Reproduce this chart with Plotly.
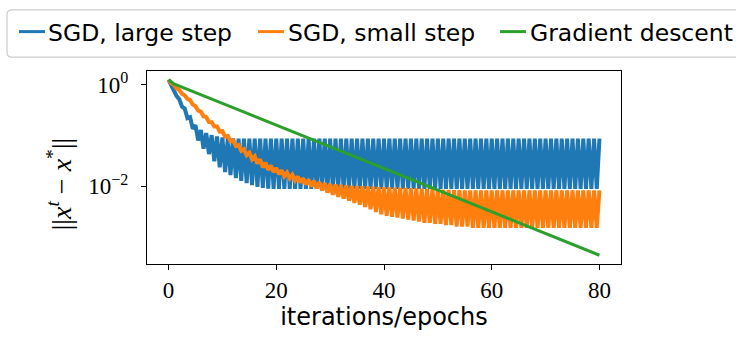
import plotly.graph_objects as go

# ---- data -------------------------------------------------------------
# SGD runs: one oscillation per epoch; peak value at the epoch mark k,
# low point half-way through the epoch (k + 0.5).
sgd_large_peak = [
    1.26, 0.80, 0.52, 0.34, 0.23, 0.16, 0.128, 0.112, 0.102, 0.096,
    0.092, 0.089, 0.088, 0.087, 0.087, 0.087, 0.087, 0.087, 0.087, 0.087,
    0.087, 0.087, 0.087, 0.087, 0.087, 0.087, 0.087, 0.087, 0.087, 0.087,
    0.087, 0.087, 0.087, 0.087, 0.087, 0.087, 0.087, 0.087, 0.087, 0.087,
    0.087, 0.087, 0.087, 0.087, 0.087, 0.087, 0.087, 0.087, 0.087, 0.087,
    0.087, 0.087, 0.087, 0.087, 0.087, 0.087, 0.087, 0.087, 0.087, 0.087,
    0.087, 0.087, 0.087, 0.087, 0.087, 0.087, 0.087, 0.087, 0.087, 0.087,
    0.087, 0.087, 0.087, 0.087, 0.087, 0.087, 0.087, 0.087, 0.087, 0.087,
    0.087,
]
sgd_large_low = [
    0.95, 0.60, 0.37, 0.22, 0.135, 0.080, 0.055, 0.043, 0.031, 0.0235,
    0.019, 0.0166, 0.0145, 0.0128, 0.0115, 0.0105, 0.0097, 0.0093, 0.0090, 0.0089,
    0.0089, 0.0089, 0.0089, 0.0089, 0.0089, 0.0089, 0.0089, 0.0089, 0.0089, 0.0089,
    0.0089, 0.0089, 0.0089, 0.0089, 0.0089, 0.0089, 0.0089, 0.0089, 0.0089, 0.0089,
    0.0089, 0.0089, 0.0089, 0.0089, 0.0089, 0.0089, 0.0089, 0.0089, 0.0089, 0.0089,
    0.0089, 0.0089, 0.0089, 0.0089, 0.0089, 0.0089, 0.0089, 0.0089, 0.0089, 0.0089,
    0.0089, 0.0089, 0.0089, 0.0089, 0.0089, 0.0089, 0.0089, 0.0089, 0.0089, 0.0089,
    0.0089, 0.0089, 0.0089, 0.0089, 0.0089, 0.0089, 0.0089, 0.0089, 0.0089, 0.0089,
]
sgd_small_peak = [
    1.26, 1.00, 0.79, 0.62, 0.50, 0.38, 0.295, 0.23, 0.184, 0.150,
    0.122, 0.098, 0.080, 0.065, 0.054, 0.046, 0.039, 0.034, 0.029, 0.0255,
    0.0228, 0.0205, 0.0185, 0.0168, 0.0155, 0.0144, 0.0135, 0.0127, 0.0121, 0.0116,
    0.0111, 0.0108, 0.0106, 0.0104, 0.0102, 0.0101, 0.0100, 0.0099, 0.0098, 0.0097,
    0.0096, 0.0095, 0.0094, 0.0093, 0.0092, 0.0091, 0.0090, 0.0089, 0.0088, 0.0087,
    0.0086, 0.0085, 0.0085, 0.0084, 0.0084, 0.0083, 0.0083, 0.0083, 0.0083, 0.0083,
    0.0083, 0.0083, 0.0083, 0.0083, 0.0083, 0.0083, 0.0083, 0.0083, 0.0083, 0.0083,
    0.0083, 0.0083, 0.0083, 0.0083, 0.0083, 0.0083, 0.0083, 0.0083, 0.0083, 0.0083,
    0.0083,
]
sgd_small_low = [
    1.08, 0.85, 0.67, 0.53, 0.41, 0.31, 0.24, 0.185, 0.15, 0.12,
    0.096, 0.077, 0.062, 0.050, 0.041, 0.034, 0.028, 0.0235, 0.021, 0.019,
    0.0172, 0.0157, 0.0143, 0.013, 0.0118, 0.0108, 0.0099, 0.0091, 0.0083, 0.0075,
    0.0068, 0.0062, 0.0057, 0.0052, 0.0047, 0.0043, 0.0039, 0.0035, 0.0031, 0.0028,
    0.0026, 0.0025, 0.0024, 0.0023, 0.0022, 0.0021, 0.0020, 0.0019, 0.0019, 0.0018,
    0.0018, 0.0017, 0.0017, 0.0016, 0.0016, 0.0016, 0.0015, 0.0015, 0.0015, 0.0015,
    0.0015, 0.0015, 0.0015, 0.0015, 0.0015, 0.0015, 0.0015, 0.0015, 0.0015, 0.0015,
    0.0015, 0.0015, 0.0015, 0.0015, 0.0015, 0.0015, 0.0015, 0.0015, 0.0015, 0.0015,
]
gd_iter = [0, 1, 10, 20, 30, 40, 50, 60, 70, 80]
gd_err = [1.26, 1.04, 0.43, 0.160, 0.0598, 0.0223, 0.00834, 0.00311, 0.00116, 0.000434]

x_ticks = [0, 20, 40, 60, 80]
y_ticks = [1, 0.01]
y_tick_text = ["10<sup>0</sup>", "10<sup>\u22122</sup>"]

names = ["SGD, large step", "SGD, small step", "Gradient descent"]
colors = ["#1f77b4", "#ff7f0e", "#2ca02c"]
y_label = "||<i>x</i><sup><i>t</i></sup> \u2212 <i>x</i><sup>*</sup>||"
x_label = "iterations/epochs"


def zigzag(peaks, lows):
    """Interleave per-epoch peaks (at k) and lows (at k + 0.5)."""
    xs, ys = [], []
    for k, p in enumerate(peaks):
        xs.append(k)
        ys.append(p)
        if k < len(lows):
            xs.append(k + 0.5)
            ys.append(lows[k])
    return xs, ys


# ---- figure geometry (pixels) ----------------------------------------
W, H = 736, 338
L, R, T, B = 147, 115, 71, 71
PW, PH = W - L - R, H - T - B


def fx(px):
    return (px - L) / PW


def fy(py):
    return (H - B - py) / PH


LW = 3
LW_SGD = 4

fig = go.Figure()
for (pk, lo), name, col in zip(
    [(sgd_large_peak, sgd_large_low), (sgd_small_peak, sgd_small_low)],
    names[:2], colors[:2]
):
    xs, ys = zigzag(pk, lo)
    fig.add_trace(go.Scatter(x=xs, y=ys, mode="lines", name=name,
                             line=dict(color=col, width=LW_SGD)))
fig.add_trace(go.Scatter(x=gd_iter, y=gd_err, mode="lines", name=names[2],
                         line=dict(color=colors[2], width=LW)))

serif = "Liberation Serif, DejaVu Serif, serif"
sans = "DejaVu Sans, sans-serif"

fig.update_xaxes(
    range=[-4, 84], tickvals=x_ticks, ticks="outside", ticklen=5, tickwidth=1.2,
    tickcolor="black", showline=True, linecolor="black", linewidth=1.3,
    mirror=True, showgrid=False, zeroline=False,
    tickfont=dict(family=serif, size=23, color="black"),
    title=dict(text=x_label, font=dict(family=sans, size=24, color="black"),
               standoff=6),
)
fig.update_yaxes(
    type="log", range=[-3.535, 0.273], tickvals=y_ticks, ticktext=y_tick_text,
    ticks="outside", ticklen=5, tickwidth=1.2, tickcolor="black",
    ticklabelstandoff=8,
    showline=True, linecolor="black", linewidth=1.3, mirror=True,
    showgrid=False, zeroline=False,
    tickfont=dict(family=serif, size=23, color="black"),
)

# legend frame drawn as a rounded box across the top
lx0, lx1, ly0, ly1, rr = 7, 745, 9, 57, 5
path = (
    f"M{fx(lx0 + rr)},{fy(ly0)} L{fx(lx1 - rr)},{fy(ly0)} "
    f"Q{fx(lx1)},{fy(ly0)} {fx(lx1)},{fy(ly0 + rr)} "
    f"L{fx(lx1)},{fy(ly1 - rr)} Q{fx(lx1)},{fy(ly1)} {fx(lx1 - rr)},{fy(ly1)} "
    f"L{fx(lx0 + rr)},{fy(ly1)} Q{fx(lx0)},{fy(ly1)} {fx(lx0)},{fy(ly1 - rr)} "
    f"L{fx(lx0)},{fy(ly0 + rr)} Q{fx(lx0)},{fy(ly0)} {fx(lx0 + rr)},{fy(ly0)} Z"
)
shapes = [dict(type="path", path=path, xref="paper", yref="paper",
               line=dict(color="#cccccc", width=1.2), fillcolor="white")]
annotations = []
line_spans = [(19, 45), (258, 284), (500, 526)]
text_x = [46, 286, 528]
ly = 31
for (a, b), tx, name, col in zip(line_spans, text_x, names, colors):
    shapes.append(dict(type="line", xref="paper", yref="paper",
                       x0=fx(a), x1=fx(b), y0=fy(ly), y1=fy(ly),
                       line=dict(color=col, width=LW)))
    annotations.append(dict(text=name, xref="paper", yref="paper",
                            x=fx(tx), y=fy(ly + 1), xanchor="left", yanchor="middle",
                            showarrow=False,
                            font=dict(family=sans, size=23.5, color="black")))

# y-axis label, rotated along the left side of the plot
annotations.append(dict(text=y_label, xref="paper", yref="paper",
                        x=fx(59), y=fy(186), xanchor="center", yanchor="middle",
                        textangle=-90, showarrow=False,
                        font=dict(family=serif, size=28, color="black")))

fig.update_layout(
    width=W, height=H, margin=dict(l=L, r=R, t=T, b=B),
    paper_bgcolor="white", plot_bgcolor="white", showlegend=False,
    shapes=shapes, annotations=annotations,
)

fig.write_html("out.html", config={"displayModeBar": False})
